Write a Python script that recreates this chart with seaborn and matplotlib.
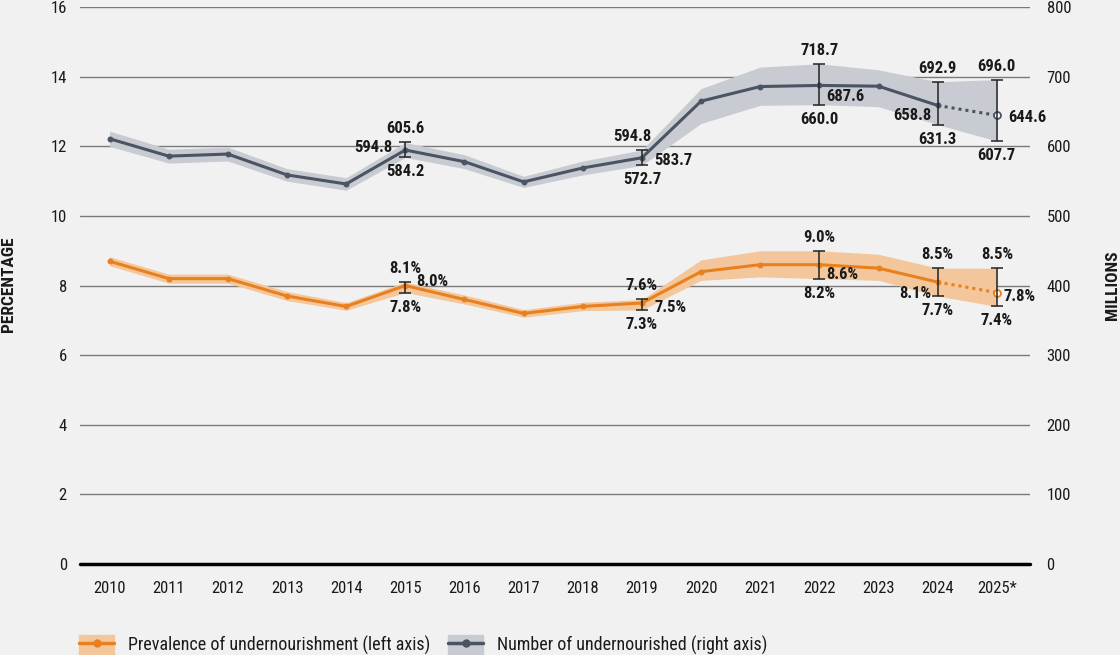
import pandas as pd
import matplotlib.pyplot as plt
import seaborn as sns
from matplotlib.lines import Line2D
from matplotlib.patches import Patch

years = [2010, 2011, 2012, 2013, 2014, 2015, 2016, 2017, 2018, 2019, 2020, 2021, 2022, 2023, 2024, 2025]
year_labels = [str(y) for y in years[:-1]] + ['2025*']

# prevalence of undernourishment (%), left axis
pou = [8.7, 8.2, 8.2, 7.7, 7.4, 8.0, 7.6, 7.2, 7.4, 7.5, 8.4, 8.6, 8.6, 8.5, 8.1, 7.8]
pou_lo = [8.57, 8.07, 8.07, 7.57, 7.29, 7.8, 7.47, 7.09, 7.28, 7.3, 8.15, 8.25, 8.2, 8.15, 7.7, 7.4]
pou_hi = [8.83, 8.33, 8.33, 7.83, 7.51, 8.1, 7.73, 7.31, 7.52, 7.6, 8.74, 9.0, 9.0, 8.9, 8.5, 8.5]

# number of undernourished (millions), right axis
num = [611, 586, 589, 559, 546, 594.8, 578, 549, 569, 583.7, 665, 686, 687.6, 686.5, 658.8, 644.6]
num_lo = [600, 576, 579, 550, 537, 584.2, 568, 541, 559, 572.7, 633, 659, 660.0, 657, 631.3, 607.7]
num_hi = [622, 596, 599, 568, 555, 605.6, 588, 557, 579, 594.8, 683, 714, 718.7, 710, 692.9, 696.0]

# years carrying an error bar and its labels
bar_years = [2015, 2019, 2022, 2024, 2025]

df = pd.DataFrame({'year': years, 'pou': pou, 'pou_lo': pou_lo, 'pou_hi': pou_hi,
                   'num': num, 'num_lo': num_lo, 'num_hi': num_hi})
df['x'] = range(len(df))

sns.set_theme(style='white')
plt.rcParams['font.family'] = ['Roboto Condensed', 'DejaVu Sans']

orange = '#e8801e'
orange_band = '#f3c79b'
slate = '#4b5462'
slate_band = '#c8cbd1'
bg = '#f1f1f1'
ink = '#1a1a1a'

fig = plt.figure(figsize=(11.2, 6.55), dpi=100, facecolor=bg)
ax = fig.add_axes([0.0714, 0.139, 0.8482, 0.85])
ax.set_facecolor(bg)
ax2 = ax.twinx()

ax.set_ylim(0, 16)
ax2.set_ylim(0, 800)
ax.set_xlim(-0.5, 15.56)
ax.set_yticks(range(0, 17, 2))
ax2.set_yticks(range(0, 801, 100))
for y in range(2, 17, 2):
    ax.axhline(y, color='#7a7a7a', lw=1.0, zorder=0)
ax.axhline(0, color='black', lw=2.5, zorder=5, clip_on=False)

solid = df[df['year'] <= 2024]
proj = df[df['year'] >= 2024]

# prevalence
ax.fill_between(df['x'], df['pou_lo'], df['pou_hi'], color=orange_band, lw=0, zorder=1)
sns.lineplot(data=solid, x='x', y='pou', ax=ax, color=orange, lw=2.2, marker='o', ms=3.5,
             mec=orange, zorder=3)
sns.lineplot(data=proj, x='x', y='pou', ax=ax, color=orange, lw=2.2, ls=(0, (1, 1.3)), zorder=3)
ax.plot(df['x'].iloc[-1], df['pou'].iloc[-1], 'o', ms=5, mfc='white', mec=orange, mew=1.3, zorder=4)

# number
ax2.fill_between(df['x'], df['num_lo'], df['num_hi'], color=slate_band, lw=0, zorder=1)
sns.lineplot(data=solid, x='x', y='num', ax=ax2, color=slate, lw=2.2, marker='o', ms=3.5,
             mec=slate, zorder=3)
sns.lineplot(data=proj, x='x', y='num', ax=ax2, color=slate, lw=2.2, ls=(0, (1, 1.3)), zorder=3)
ax2.plot(df['x'].iloc[-1], df['num'].iloc[-1], 'o', ms=5, mfc='white', mec=slate, mew=1.3, zorder=4)

eb = df[df['year'].isin(bar_years)]
ax.errorbar(eb['x'], eb['pou'], yerr=[eb['pou'] - eb['pou_lo'], eb['pou_hi'] - eb['pou']],
            fmt='none', ecolor='#222222', elinewidth=1.1, capsize=4, capthick=1.1, zorder=4)
ax2.errorbar(eb['x'], eb['num'], yerr=[eb['num'] - eb['num_lo'], eb['num_hi'] - eb['num']],
             fmt='none', ecolor='#222222', elinewidth=1.1, capsize=4, capthick=1.1, zorder=4)

# pixel offsets of the centre-value labels (dx, dy); negative dx -> label on the left
num_off = {2015: (-13, 3), 2019: (12, -3), 2022: (7, -11), 2024: (-6, -10), 2025: (11, -2)}
pou_off = {2015: (11, 4), 2019: (13, -5), 2022: (7, -10), 2024: (-6, -11), 2025: (7, -4)}
top_dx = {2019: -10}
lab_kw = dict(textcoords='offset pixels', fontsize=12, fontweight='bold', color=ink, zorder=6)
for _, r in eb.iterrows():
    i = r['x']
    yr = int(r['year'])
    dx = top_dx.get(yr, 0)
    ax2.annotate(f"{r['num_hi']:.1f}", (i, r['num_hi']), xytext=(dx, 6), ha='center', va='bottom', **lab_kw)
    ax2.annotate(f"{r['num_lo']:.1f}", (i, r['num_lo']), xytext=(0, -7), ha='center', va='top', **lab_kw)
    ox, oy = num_off[yr]
    ax2.annotate(f"{r['num']:.1f}", (i, r['num']), xytext=(ox, oy),
                 ha='right' if ox < 0 else 'left', va='center', **lab_kw)
    ax.annotate(f"{r['pou_hi']:.1f}%", (i, r['pou_hi']), xytext=(0, 6), ha='center', va='bottom', **lab_kw)
    ax.annotate(f"{r['pou_lo']:.1f}%", (i, r['pou_lo']), xytext=(0, -7), ha='center', va='top', **lab_kw)
    ox, oy = pou_off[yr]
    ax.annotate(f"{r['pou']:.1f}%", (i, r['pou']), xytext=(ox, oy),
                ha='right' if ox < 0 else 'left', va='center', **lab_kw)

ax.set_xticks(df['x'])
ax.set_xticklabels(year_labels)
for a in (ax, ax2):
    for s in a.spines.values():
        s.set_visible(False)
    a.set_xlabel('')
    a.set_ylabel('')
ax.tick_params(axis='x', length=6, width=1, color='#555555', pad=6, labelsize=12, labelcolor=ink)
ax.tick_params(axis='y', length=0, pad=9.5, labelsize=12, labelcolor=ink)
ax2.tick_params(axis='y', length=0, pad=12, labelsize=12, labelcolor=ink)

fig.text(0.008, 0.566, 'PERCENTAGE', rotation=90, ha='center', va='center', fontsize=12.5,
         fontweight='bold', color=ink)
fig.text(0.993, 0.564, 'MILLIONS', rotation=90, ha='center', va='center', fontsize=12.5,
         fontweight='bold', color=ink)

h1 = (Patch(color=orange_band), Line2D([], [], color=orange, lw=2.5, marker='o', ms=5))
h2 = (Patch(color=slate_band), Line2D([], [], color=slate, lw=2.5, marker='o', ms=5))
fig.legend([h1, h2], ['Prevalence of undernourishment (left axis)', 'Number of undernourished (right axis)'],
           loc='center left', bbox_to_anchor=(0.056, 0.0153), ncol=2, frameon=False, fontsize=13,
           handlelength=1.95, handleheight=1.4, columnspacing=1.0, handletextpad=0.75, labelcolor=ink)

fig.savefig('out.png', dpi=100, facecolor=bg)
